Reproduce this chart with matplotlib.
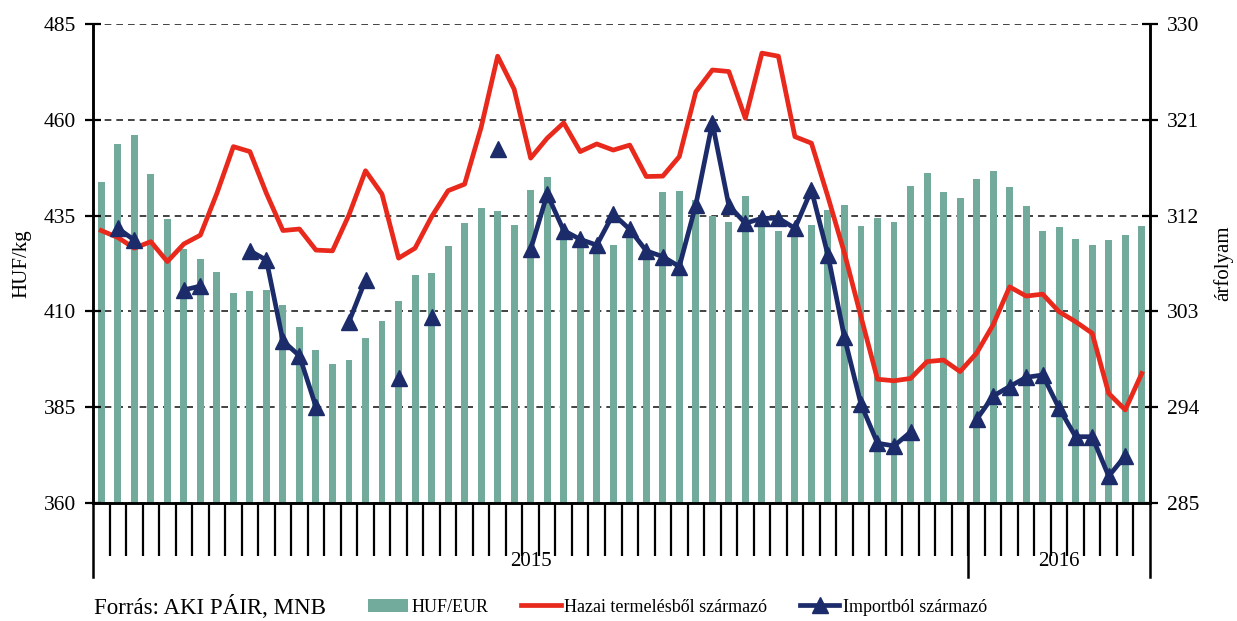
import matplotlib
matplotlib.use('Agg')
import matplotlib.pyplot as plt
import matplotlib.transforms as mtransforms
from matplotlib.lines import Line2D
from matplotlib.patches import Patch
import numpy as np

# heti adatok: 2015. 1-53. het, 2016. 1-11. het
weeks_2015 = 53
weeks_2016 = 11

huf_eur = [315.2, 318.7, 319.6, 315.9, 311.7, 308.9, 307.9, 306.7, 304.7, 304.9,
           305.0, 303.6, 301.5, 299.4, 298.1, 298.4, 300.5, 302.1, 304.0, 306.4,
           306.6, 309.1, 311.3, 312.7, 312.4, 311.1, 314.4, 315.6, 310.8, 309.7,
           309.1, 309.2, 310.4, 308.5, 314.2, 314.3, 313.5, 312.0, 311.4, 313.8,
           311.9, 310.6, 311.1, 311.1, 312.5, 313.0, 311.0, 311.8, 311.4, 314.8,
           316.0, 314.2, 313.7, 315.4, 316.2, 314.7, 312.9, 310.6, 310.9, 309.8,
           309.2, 309.7, 310.2, 311.0]

hazai = [431.1, 429.3, 426.5, 428.2, 423.0, 427.6, 429.9, 440.8, 453.0, 451.7,
         440.8, 431.1, 431.5, 426.0, 425.8, 435.2, 446.7, 440.6, 423.9, 426.5,
         434.7, 441.5, 443.2, 458.0, 476.6, 468.0, 450.0, 455.2, 459.2, 451.7,
         453.7, 452.1, 453.4, 445.2, 445.3, 450.4, 467.3, 473.0, 472.6, 460.4,
         477.4, 476.6, 455.6, 453.9, 439.9, 425.2, 408.6, 392.3, 391.9, 392.5,
         396.9, 397.3, 394.3, 399.1, 406.5, 416.4, 414.0, 414.5, 409.9, 407.3,
         404.3, 388.6, 384.3, 393.8]

nan = np.nan
import_ = [nan, 431.7, 428.6, nan, nan, 415.6, 416.6, nan, nan, 425.8,
           423.4, 402.3, 398.4, 385.1, nan, 407.3, 418.2, nan, 392.5, nan,
           408.6, nan, nan, nan, 452.5, nan, 426.2, 440.6, 431.1, 428.8,
           427.3, 435.4, 431.4, 425.8, 424.3, 421.7, 437.8, 459.2, 437.6, 433.0,
           434.3, 434.3, 431.7, 441.7, 424.7, 403.2, 385.8, 375.6, 374.9, 378.5,
           nan, nan, nan, 381.8, 387.9, 390.4, 392.8, 393.4, 384.7, 377.3,
           377.3, 367.0, 372.3, nan]

left_ticks = [360, 385, 410, 435, 460, 485]
right_ticks = [285, 294, 303, 312, 321, 330]

plt.rcParams['font.family'] = ['Liberation Serif', 'DejaVu Serif']

BAR_COLOR = '#72aa9c'
RED = '#e8291c'
BLUE = '#1c2c6a'

n = len(huf_eur)
x = np.arange(n)

fig = plt.figure(figsize=(12.37, 6.21), dpi=100)
ax2 = fig.add_axes([93 / 1237, 1 - 503 / 621, (1150 - 93) / 1237, (503 - 24) / 621])
ax = ax2.twinx()
# a vonalak az oszlopok felett
ax.set_zorder(ax2.get_zorder() + 1)
ax.patch.set_visible(False)

# HUF/EUR oszlopok a jobb tengelyen
ax2.bar(x, huf_eur, width=0.42, color=BAR_COLOR, zorder=2)
ax2.set_ylim(285, 330)
ax2.set_yticks(right_ticks)
ax2.yaxis.tick_right()
ax2.yaxis.set_label_position('right')
ax2.set_ylabel('árfolyam', fontsize=15, labelpad=10)
ax2.grid(axis='y', color='#222222', linestyle=(0, (4, 3)), linewidth=1.2, zorder=1)
ax2.set_axisbelow(True)

ax.plot(x, hazai, color=RED, linewidth=3.4, zorder=3)
ax.plot(x, import_, color=BLUE, linewidth=3.4, marker='^', markersize=11.5, zorder=4)
ax.set_ylim(360, 485)
ax.set_yticks(left_ticks)
ax.yaxis.tick_left()
ax.yaxis.set_label_position('left')
ax.set_ylabel('HUF/kg', fontsize=15, labelpad=9)

ax2.set_xlim(-0.5, n - 0.5)
ax2.set_xticks(np.arange(0.5, n - 1, 1.0))
ax2.set_xticklabels([])
ax2.tick_params(axis='x', length=38, width=1.6, direction='out', color='black')
ax.tick_params(axis='x', length=0)

for a in (ax, ax2):
    a.tick_params(axis='y', labelsize=15.5, direction='inout', length=12, width=1.6, pad=6)
    for side in ('left', 'right', 'bottom'):
        a.spines[side].set_linewidth(1.8)
    a.spines['top'].set_visible(False)

# evek elvalasztasa az x tengely alatt
trans = mtransforms.blended_transform_factory(ax2.transData, ax2.transAxes)
for xs in (-0.5, weeks_2015 - 0.5, n - 0.5):
    ax2.add_line(Line2D([xs, xs], [0, -0.155], transform=trans, color='black',
                        linewidth=1.8, clip_on=False))
ax2.text((weeks_2015 - 1) / 2, -0.122, '2015', transform=trans, ha='center', va='center', fontsize=15)
ax2.text(weeks_2015 + (weeks_2016 - 1) / 2, -0.122, '2016', transform=trans,
         ha='center', va='center', fontsize=15)

# jelmagyarazat
fig.text(94 / 1237, 1 - 607 / 621, 'Forrás: AKI PÁIR, MNB', fontsize=16.5, ha='left', va='center')
handles = [
    Patch(facecolor=BAR_COLOR, label='HUF/EUR'),
    Line2D([0], [0], color=RED, linewidth=3.4, label='Hazai termelésből származó'),
    Line2D([0], [0], color=BLUE, linewidth=3.4, marker='^', markersize=11.5, label='Importból származó'),
]
fig.legend(handles=handles, loc='center left', bbox_to_anchor=(368 / 1237, 1 - 607 / 621),
           ncol=3, frameon=False, fontsize=13, handlelength=2.2, handletextpad=0.2,
           columnspacing=1.8, borderaxespad=0, borderpad=0)

plt.savefig('out.png', dpi=100)
plt.close()
